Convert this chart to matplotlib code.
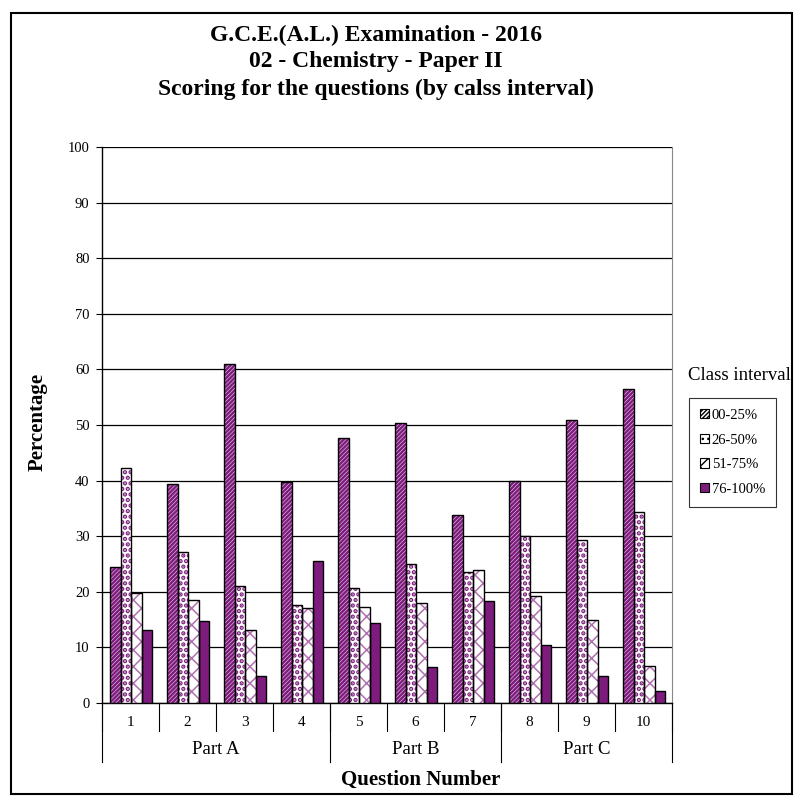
import matplotlib
matplotlib.use("Agg")
import matplotlib.pyplot as plt
import numpy as np
from matplotlib.patches import Rectangle, Patch
from matplotlib.lines import Line2D

plt.rcParams['font.family'] = ['Liberation Serif', 'DejaVu Serif']

questions = ['1', '2', '3', '4', '5', '6', '7', '8', '9', '10']
parts = ['Part A', 'Part B', 'Part C']
part_sizes = [4, 3, 3]
series_names = ['00-25%', '26-50%', '51-75%', '76-100%']
s00_25 = [24.5, 39.4, 60.9, 39.7, 47.6, 50.3, 33.8, 40.0, 50.9, 56.4]
s26_50 = [42.3, 27.1, 21.0, 17.7, 20.6, 25.0, 23.5, 30.1, 29.3, 34.4]
s51_75 = [19.8, 18.6, 13.1, 17.0, 17.3, 18.0, 24.0, 19.3, 14.9, 6.6]
s76_100 = [13.2, 14.7, 4.9, 25.5, 14.3, 6.5, 18.4, 10.4, 4.8, 2.2]
series = [s00_25, s26_50, s51_75, s76_100]

purple = '#7E1C7E'
light_purple = '#B070B0'
hatches = ['////////', '...', 'xx', None]
hatch_lw = [1.8, 2.2, 1.1, 1.0]
hatch_colors = [purple, purple, light_purple, purple]
face_colors = ['white', 'white', 'white', purple]

W, H = 795, 798
fig = plt.figure(figsize=(W / 100, H / 100), dpi=100)
ax = fig.add_axes([102 / W, 1 - 703 / H, (672 - 102) / W, (703 - 147) / H])

n = len(questions)
x = np.arange(n)
bw = 0.185
offsets = (np.arange(4) - 1.5) * bw + 0.01
for i, vals in enumerate(series):
    plt.rcParams['hatch.linewidth'] = hatch_lw[i]
    ax.bar(x + offsets[i], vals, width=bw, color=face_colors[i], hatch=hatches[i],
           edgecolor=hatch_colors[i], linewidth=0, zorder=3)
    ax.bar(x + offsets[i], vals, width=bw, fill=False, edgecolor='black',
           linewidth=1.0, zorder=4)

ax.set_xlim(-0.5, n - 0.5)
ax.set_ylim(0, 100)
ax.set_yticks(np.arange(0, 101, 10))
ax.tick_params(axis='y', labelsize=10.5, length=4, direction='out', width=0.8, pad=5)
ax.yaxis.grid(True, color='black', linewidth=0.9)
ax.set_axisbelow(True)
ax.set_xticks([])
ax.spines['top'].set_visible(False)
ax.spines['right'].set_color('#888888')
ax.spines['left'].set_linewidth(1.0)
ax.spines['bottom'].set_linewidth(1.0)

# Multi-level category axis
trans = ax.get_xaxis_transform()
lvl1 = -28 / 556
lvl2 = -59 / 556
for b in range(n + 1):
    ax.add_line(Line2D([b - 0.5, b - 0.5], [0, lvl1], transform=trans, color='black',
                       linewidth=0.8, clip_on=False))
for i, q in enumerate(questions):
    ax.text(i, -19 / 556, q, transform=trans, ha='center', va='center', fontsize=11)
start = 0
bounds = [0]
for p, sz in zip(parts, part_sizes):
    ax.text(start + sz / 2 - 0.5, -46 / 556, p, transform=trans, ha='center',
            va='center', fontsize=13.5)
    start += sz
    bounds.append(start)
for b in bounds:
    ax.add_line(Line2D([b - 0.5, b - 0.5], [0, lvl2], transform=trans, color='black',
                       linewidth=0.8, clip_on=False))

fig.text(421 / W, 1 - 780 / H, 'Question Number', ha='center', va='center',
         fontsize=15, fontweight='bold')
fig.text(38 / W, 1 - 422 / H, 'Percentage', ha='center', va='center', rotation=90,
         fontsize=15, fontweight='bold')

titles = ['G.C.E.(A.L.) Examination - 2016', '02 - Chemistry - Paper II',
          'Scoring for the questions (by calss interval)']
for t, yy in zip(titles, [35, 62, 89]):
    fig.text(376 / W, 1 - yy / H, t, ha='center', va='center', fontsize=17,
             fontweight='bold')

# Legend
fig.text(688 / W, 1 - 376 / H, 'Class interval', ha='left', va='center', fontsize=13.5)
handles = []
for i in range(4):
    plt.rcParams['hatch.linewidth'] = hatch_lw[i]
    handles.append(Patch(facecolor=face_colors[i], hatch=hatches[i], edgecolor='black',
                         linewidth=0.8))
leg = fig.legend(handles, series_names, loc='upper left',
                 bbox_to_anchor=(689 / W, 1 - 398 / H), fontsize=10.5,
                 frameon=True, fancybox=False, edgecolor='black', handlelength=0.6,
                 handleheight=0.6, handletextpad=0.2, labelspacing=0.8,
                 borderpad=0.75, borderaxespad=0)
leg.get_frame().set_linewidth(0.8)

# Figure border
fig.add_artist(Rectangle((11 / W, 4 / H), (792 - 11) / W, (785 - 4) / H,
                         transform=fig.transFigure, fill=False, edgecolor='black',
                         linewidth=1.5))

fig.savefig('out.png', dpi=100)
